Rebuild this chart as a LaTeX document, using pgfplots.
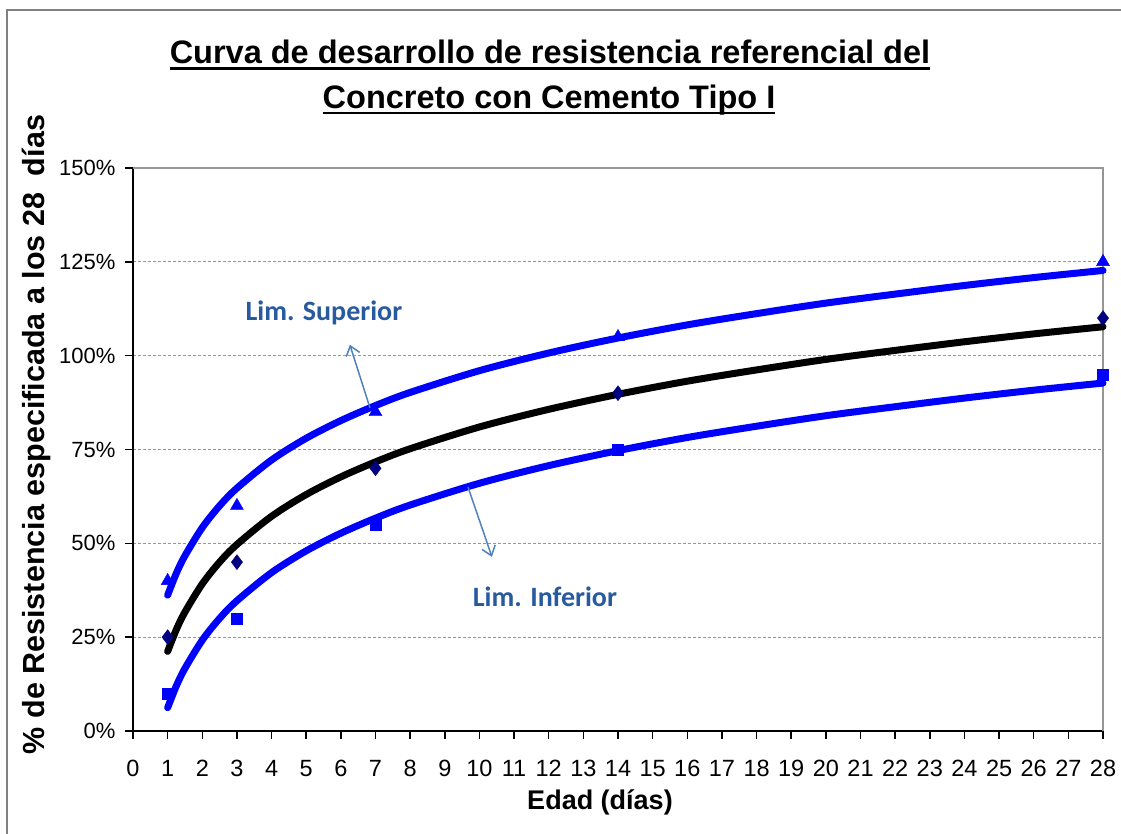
\documentclass[border=0pt]{standalone}
\usepackage{pgfplots}
\pgfplotsset{compat=1.18}
\usepackage{fontspec}
\setmainfont{Liberation Sans}
\newfontfamily\calfont{Carlito}
\usetikzlibrary{arrows.meta}
\definecolor{gridgray}{RGB}{150,150,150}
\definecolor{navy}{RGB}{0,0,128}
\definecolor{lbl}{RGB}{40,90,160}
\definecolor{arr}{RGB}{79,129,189}
\newcommand\ul[1]{\setbox0\hbox{#1}\rlap{\raisebox{-6pt}{\rule{\wd0}{2.8pt}}}\box0}
\begin{document}
\begin{tikzpicture}[x=1pt,y=1pt]
\useasboundingbox (0,0) rectangle (1121,834);
\draw[gray,line width=2pt] (7,0) -- (7,824) -- (1121,824);
\node[font=\fontsize{32.5}{36}\bfseries\selectfont] at (550,779) {\ul{Curva de desarrollo de resistencia referencial del}};
\node[font=\fontsize{32.5}{36}\bfseries\selectfont] at (549,734) {\ul{Concreto con Cemento Tipo I}};
\begin{axis}[
  at={(133pt,103pt)}, anchor=origin,
  scale only axis, width=970pt, height=563pt,
  xmin=0, xmax=28, ymin=0, ymax=150,
  xtick={0,1,...,28}, ytick={0,25,50,75,100,125,150},
  yticklabel={\pgfmathprintnumber{\tick}\%},
  /pgf/number format/assume math mode=true,
  tick label style={font=\fontsize{22}{24}\selectfont},
  xticklabel style={yshift=-18pt, font=\fontsize{23.5}{25}\selectfont},
  yticklabel style={xshift=-6pt},
  tick align=outside, major tick length=8pt,
  tick style={black, line width=1.5pt},
  xtick pos=bottom, ytick pos=left,
  axis line style={line width=2pt},
  axis x line*=bottom, axis y line*=left,
  ymajorgrids, grid style={gridgray, line width=1.3pt, dash pattern=on 3pt off 2pt},
  xlabel={Edad (días)}, 
  xlabel style={font=\fontsize{27}{30}\bfseries\selectfont, yshift=-6pt, xshift=-18pt},
  ylabel={\% de Resistencia especificada a los 28\ \ días},
  ylabel style={font=\fontsize{30.5}{33}\bfseries\selectfont, yshift=2pt, xshift=15pt},
  clip=false,
]
% top and right borders
\draw[gridgray, line width=2pt] (axis cs:0,150) -- (axis cs:28,150) -- (axis cs:28,0);
% markers
\addplot[only marks, mark=triangle*, color=blue, mark size=7.5pt] coordinates {(1,40) (3,60) (7,85) (14,105) (28,125)};
\addplot[only marks, mark=diamond*, color=navy, mark size=7.5pt] coordinates {(1,25) (3,45) (7,70) (14,90) (28,110)};
\addplot[only marks, mark=square*, color=blue, mark size=5.5pt] coordinates {(1,10) (3,30) (7,55) (14,75) (28,95)};
% trend lines
\addplot[blue, line width=7pt, smooth, line cap=round] coordinates {(1,36.2) (1.25,42.0) (1.5,46.7) (2,54.2) (2.5,60.0) (3,64.7) (4,72.2) (5,78.0) (6,82.7) (7,86.7) (8,90.2) (10,96.0) (12,100.7) (14,104.7) (16,108.2) (18,111.2) (20,114.0) (22,116.4) (24,118.7) (26,120.8) (28,122.7)};
\addplot[black, line width=7pt, smooth, line cap=round] coordinates {(1,21.2) (1.25,27.0) (1.5,31.7) (2,39.2) (2.5,45.0) (3,49.7) (4,57.2) (5,63.0) (6,67.7) (7,71.7) (8,75.2) (10,81.0) (12,85.7) (14,89.7) (16,93.2) (18,96.2) (20,99.0) (22,101.4) (24,103.7) (26,105.8) (28,107.7)};
\addplot[blue, line width=7pt, smooth, line cap=round] coordinates {(1,6.2) (1.25,12.0) (1.5,16.7) (2,24.2) (2.5,30.0) (3,34.7) (4,42.2) (5,48.0) (6,52.7) (7,56.7) (8,60.2) (10,66.0) (12,70.7) (14,74.7) (16,78.2) (18,81.2) (20,84.0) (22,86.4) (24,88.7) (26,90.8) (28,92.7)};
% annotations
\draw[arr, line width=1.5pt, -{Straight Barb[length=9pt,width=14pt]}] (axis cs:6.84,86.1) -- (axis cs:6.26,102.9);
\draw[arr, line width=1.5pt, -{Straight Barb[length=9pt,width=14pt]}] (axis cs:9.67,65.0) -- (axis cs:10.36,46.4);
\node[lbl, font=\fontsize{28}{30}\calfont\bfseries] at (axis cs:5.51,111.4) {Lim. Superior};
\node[lbl, font=\fontsize{28}{30}\calfont\bfseries] at (axis cs:11.89,35.7) {Lim. Inferior};
\end{axis}
\end{tikzpicture}
\end{document}
